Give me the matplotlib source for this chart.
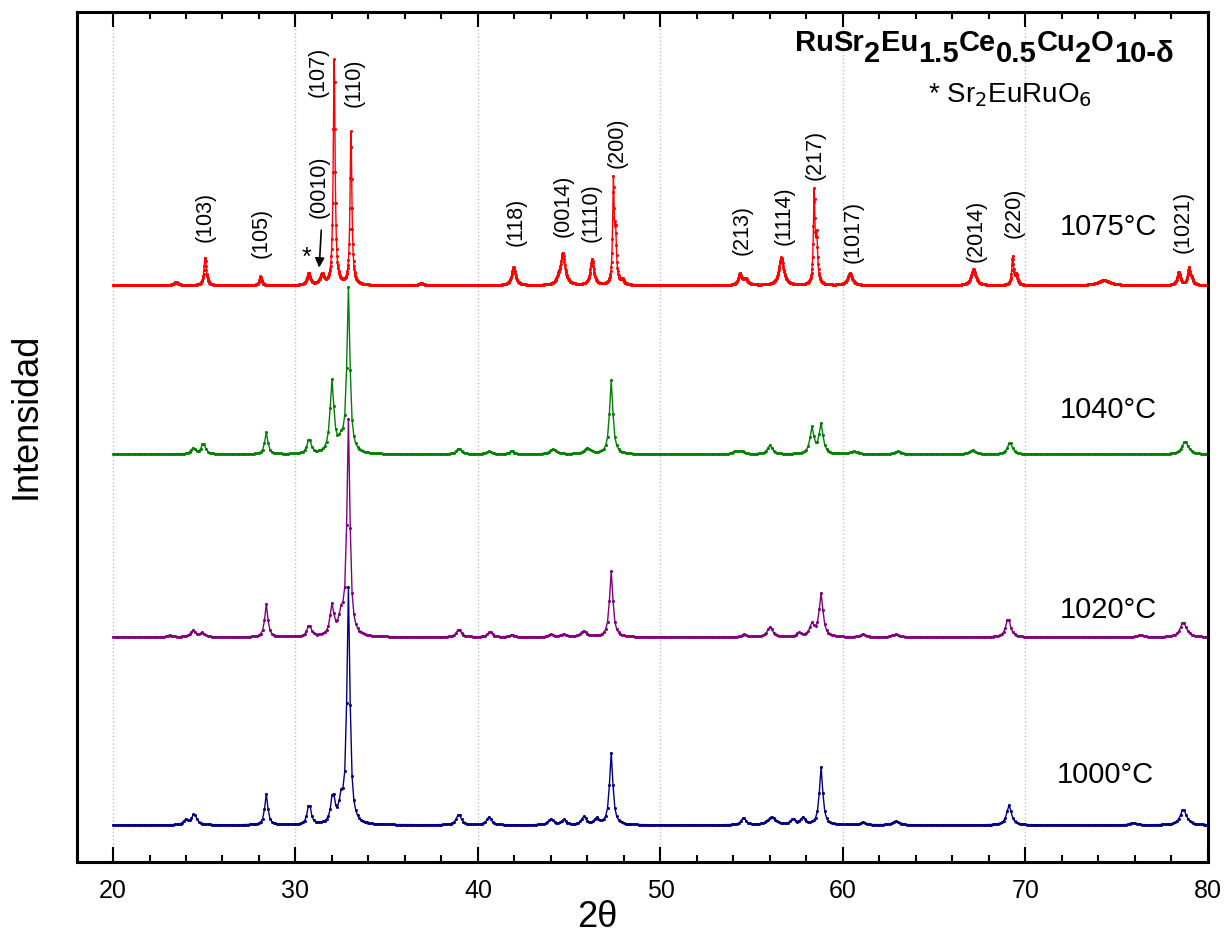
import numpy as np
import matplotlib.pyplot as plt

plt.rcParams['font.family'] = ['Liberation Sans', 'DejaVu Sans']

# XRD patterns, RuSr2Eu1.5Ce0.5Cu2O10-d sintered at four temperatures
temps = ['1075°C', '1040°C', '1020°C', '1000°C']
colors = ['#ff0000', '#008000', '#800080', '#000080']
baselines = [577, 408, 225, 37]
steps = [0.02, 0.1, 0.1, 0.1]

# peaks: position (2theta), height, FWHM
pos_1075 = [23.45, 25.05, 28.08, 30.72, 31.45, 32.12, 33.04, 36.9, 41.95, 44.4, 44.65,
            46.25, 47.42, 47.54, 47.9, 54.35, 54.65, 56.62, 58.42, 58.56, 60.38, 67.15,
            69.3, 69.5, 74.3, 78.4, 78.95, 79.1]
h_1075 = [3, 28, 9, 12, 10, 225, 153, 2, 18, 5, 32, 26, 100, 45, 5, 11, 6, 28, 90, 45,
          12, 16, 28, 10, 5, 13, 16, 6]
w_1075 = [0.3, 0.15, 0.15, 0.2, 0.25, 0.12, 0.12, 0.3, 0.25, 0.2, 0.28, 0.22, 0.1, 0.12,
          0.2, 0.2, 0.3, 0.3, 0.1, 0.12, 0.3, 0.3, 0.12, 0.15, 0.8, 0.2, 0.15, 0.2]

pos_1040 = [24.4, 24.95, 28.4, 30.75, 32.0, 32.5, 32.9, 38.95, 40.6, 41.85, 44.1, 46.0,
            47.3, 54.1, 54.45, 56.0, 58.3, 58.8, 60.6, 63.0, 67.1, 69.15, 78.75]
h_1040 = [6, 11, 22, 15, 72, 10, 165, 6, 3, 3, 5, 6, 74, 3, 3, 9, 26, 30, 3, 3, 4, 12, 13]
w_1040 = [0.3, 0.25, 0.2, 0.25, 0.25, 0.3, 0.2, 0.3, 0.3, 0.3, 0.4, 0.4, 0.22, 0.3, 0.3,
          0.3, 0.25, 0.25, 0.4, 0.4, 0.4, 0.3, 0.4]

pos_1020 = [23.1, 24.4, 24.9, 28.4, 30.75, 32.0, 32.5, 32.9, 38.95, 40.65, 41.85, 44.0,
            44.7, 45.8, 47.3, 54.6, 56.0, 57.6, 58.3, 58.8, 61.1, 62.9, 69.05, 76.3, 78.65]
h_1020 = [2, 7, 4, 33, 12, 30, 18, 215, 8, 5, 2, 3, 3, 6, 66, 3, 10, 4, 12, 43, 3, 3, 19,
          2, 15]
w_1020 = [0.3, 0.3, 0.3, 0.2, 0.25, 0.25, 0.3, 0.2, 0.3, 0.3, 0.3, 0.3, 0.3, 0.4, 0.22,
          0.3, 0.35, 0.3, 0.3, 0.25, 0.3, 0.4, 0.3, 0.4, 0.4]

pos_1000 = [24.0, 24.45, 28.4, 30.75, 32.05, 32.5, 32.9, 38.95, 40.6, 44.0, 44.7, 45.8,
            46.5, 47.3, 54.55, 56.1, 57.25, 57.8, 58.8, 61.1, 62.9, 69.1, 75.9, 78.65]
h_1000 = [5, 11, 31, 22, 30, 20, 236, 11, 8, 6, 5, 8, 6, 72, 7, 8, 5, 7, 58, 3, 4, 20, 2, 16]
w_1000 = [0.3, 0.3, 0.2, 0.22, 0.25, 0.25, 0.2, 0.3, 0.3, 0.3, 0.3, 0.3, 0.3, 0.22, 0.3,
          0.5, 0.3, 0.3, 0.22, 0.3, 0.4, 0.3, 0.4, 0.4]

peaks = [(pos_1075, h_1075, w_1075), (pos_1040, h_1040, w_1040),
         (pos_1020, h_1020, w_1020), (pos_1000, h_1000, w_1000)]

# Miller indices of the 1075 pattern and where their labels sit
hkl = ['(103)', '(105)', '(0010)', '(107)', '(110)', '(118)', '(0014)', '(1110)', '(200)',
       '(213)', '(1114)', '(217)', '(1017)', '(2014)', '(220)', '(1021)']
hkl_x = [25.05, 28.1, 31.3, 31.25, 33.2, 42.1, 44.65, 46.2, 47.65, 54.5, 56.8, 58.45,
         60.55, 67.3, 69.4, 78.65]
hkl_y = [620, 604, 644, 765, 755, 616, 625, 620, 694, 607, 617, 682, 599, 600, 624, 609]

temp_x = [74.52, 74.52, 74.52, 74.35]
temp_y = [635, 452, 252, 87]

fig = plt.figure(figsize=(12.26, 9.44), dpi=100)
ax = fig.add_axes([0.0624, 0.0869, 0.9229, 0.9009])

for (p, h, w), base, c, st in zip(peaks, baselines, colors, steps):
    x = np.arange(20, 80 + st / 2, st)
    y = np.full_like(x, base, dtype=float)
    for pi, hi, wi in zip(p, h, w):
        y += hi / (1 + ((x - pi) / (wi / 2)) ** 2)
    ax.plot(x, y, '-', color=c, lw=1, marker='o', ms=2.2, mew=0)

for s, xx, yy in zip(hkl, hkl_x, hkl_y):
    ax.text(xx, yy, s, rotation=90, ha='center', va='bottom', fontsize=15.5)

ax.text(30.6, 604, '*', ha='center', va='center', fontsize=18)
ax.annotate('', xy=(31.29, 592), xytext=(31.42, 635),
            arrowprops=dict(arrowstyle='-|>', color='black', lw=1.2, mutation_scale=14))

for t, xx, yy in zip(temps, temp_x, temp_y):
    ax.text(xx, yy, t, ha='center', va='center', fontsize=21)

# compound formula with full-size subscripts
pieces = [('Ru', 0), ('Sr', 0), ('2', 1), ('Eu', 0), ('1.5', 1), ('Ce', 0), ('0.5', 1),
          ('Cu', 0), ('2', 1), ('O', 0), ('10-δ', 1)]
prev = ax.text(57.36, 805, '', fontsize=21, fontweight='bold', va='bottom')
level = 0
for s, sub in pieces:
    dy = -7.5 if (sub and not level) else (7.5 if (level and not sub) else 0)
    prev = ax.annotate(s, xy=(1, 0), xycoords=prev, xytext=(0, dy),
                       textcoords='offset points', fontsize=21, fontweight='bold',
                       va='bottom', ha='left')
    level = sub

ax.text(64.65, 760, r'* Sr$_2$EuRuO$_6$', fontsize=20, va='baseline', ha='left')

ax.set_xlim(18, 80)
ax.set_ylim(0, 851)
ax.set_xticks(np.arange(20, 81, 10))
ax.set_xticks(np.arange(18, 81, 2), minor=True)
ax.set_yticks([])
ax.tick_params(axis='x', which='both', direction='in', top=True, labelsize=18, pad=12,
               width=1.5)
ax.tick_params(axis='x', which='major', length=11)
ax.tick_params(axis='x', which='minor', length=5)
for sp in ax.spines.values():
    sp.set_linewidth(2.2)
ax.grid(axis='x', which='major', linestyle=':', color='#c0c0c0', lw=1)

ax.set_xlabel('2θ', fontsize=26)
ax.xaxis.set_label_coords(0.46, -0.045)
ax.set_ylabel('Intensidad', fontsize=26)
ax.yaxis.set_label_coords(-0.029, 0.524)

fig.savefig('out.png', dpi=100)
